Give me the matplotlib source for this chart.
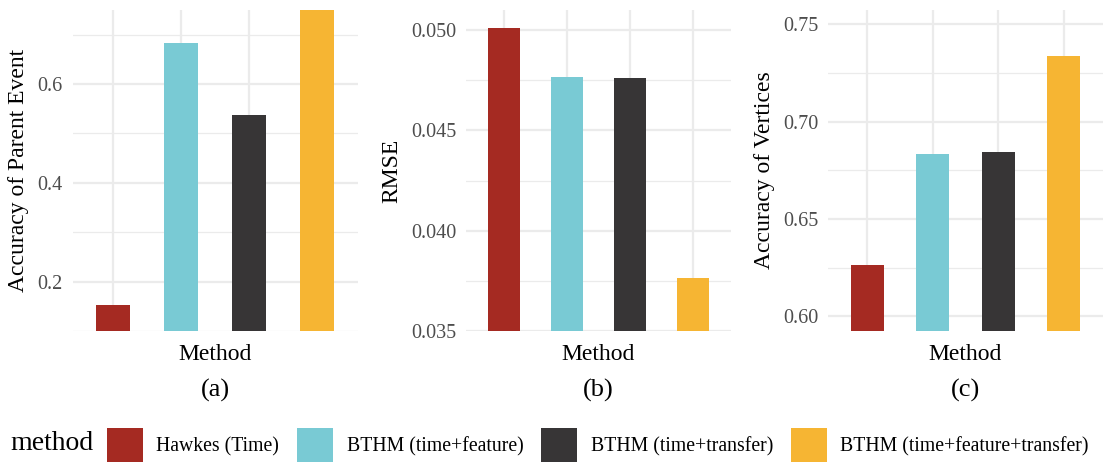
import numpy as np
import matplotlib.pyplot as plt
from matplotlib.patches import Patch

plt.rcParams['font.family'] = ['Liberation Serif', 'DejaVu Serif']

methods = ['Hawkes (Time)', 'BTHM (time+feature)', 'BTHM (time+transfer)',
           'BTHM (time+feature+transfer)']
colors = ['#A52A22', '#79CAD4', '#373536', '#F6B533']

# scores per method
parent_acc = [0.1535, 0.684, 0.538, 0.76]
rmse = [0.0501, 0.04765, 0.0476, 0.03765]
vertex_acc = [0.6262, 0.6834, 0.6844, 0.7338]

panels = [
    dict(vals=parent_acc, ylabel='Accuracy of Parent Event', tag='(a)',
         ylim=(0.1, 0.75), major=[0.2, 0.4, 0.6], minor=[0.1, 0.3, 0.5, 0.7],
         fmt='{:.1f}'),
    dict(vals=rmse, ylabel='RMSE', tag='(b)',
         ylim=(0.035, 0.051), major=[0.035, 0.040, 0.045, 0.050],
         minor=[0.0375, 0.0425, 0.0475], fmt='{:.3f}'),
    dict(vals=vertex_acc, ylabel='Accuracy of Vertices', tag='(c)',
         ylim=(0.5925, 0.7573), major=[0.60, 0.65, 0.70, 0.75],
         minor=[0.625, 0.675, 0.725], fmt='{:.2f}'),
]

W, H = 1107, 462
fig = plt.figure(figsize=(W / 100, H / 100), dpi=100)

# panel boxes in pixels: left, right
boxes = [(72.7, 358), (466, 731), (828, 1103)]
top_px, bot_px = 10, 331

grid_col = '#EBEBEB'
x = np.arange(1, len(methods) + 1)

for (l, r), p in zip(boxes, panels):
    ax = fig.add_axes([l / W, 1 - bot_px / H, (r - l) / W, (bot_px - top_px) / H])
    ax.set_axisbelow(True)
    ax.bar(x, p['vals'], width=0.5, color=colors, bottom=0)
    ax.set_xlim(0.4, 4.6)
    ax.set_ylim(*p['ylim'])
    ax.set_yticks(p['major'])
    ax.set_yticklabels([p['fmt'].format(v) for v in p['major']])
    ax.set_yticks(p['minor'], minor=True)
    ax.set_xticks(x)
    ax.set_xticklabels([])
    ax.grid(True, which='major', color=grid_col, linewidth=1.6)
    ax.grid(True, which='minor', axis='y', color=grid_col, linewidth=0.9)
    ax.tick_params(which='both', length=0)
    ax.tick_params(axis='y', labelsize=14.5, labelcolor='#4D4D4D', pad=7)
    for s in ax.spines.values():
        s.set_visible(False)
    ax.set_ylabel(p['ylabel'], fontsize=17, labelpad=6)
    ax.set_xlabel('Method', fontsize=17, labelpad=6)
    ax.text(0.5, -0.148, p['tag'], transform=ax.transAxes, ha='center', va='top',
            fontsize=19)

handles = [Patch(facecolor=c, edgecolor='none') for c in colors]
fig.legend(handles, methods, loc='center left', bbox_to_anchor=(107 / W, 1 - 445 / H),
           ncol=4, frameon=False, fontsize=14.25, handlelength=1.8, handleheight=2.2,
           handletextpad=0.7, columnspacing=0.9, borderaxespad=0, borderpad=0)
fig.text(10 / W, 1 - 444 / H, 'method', fontsize=20, ha='left', va='center')

fig.savefig('out.png', dpi=100)
